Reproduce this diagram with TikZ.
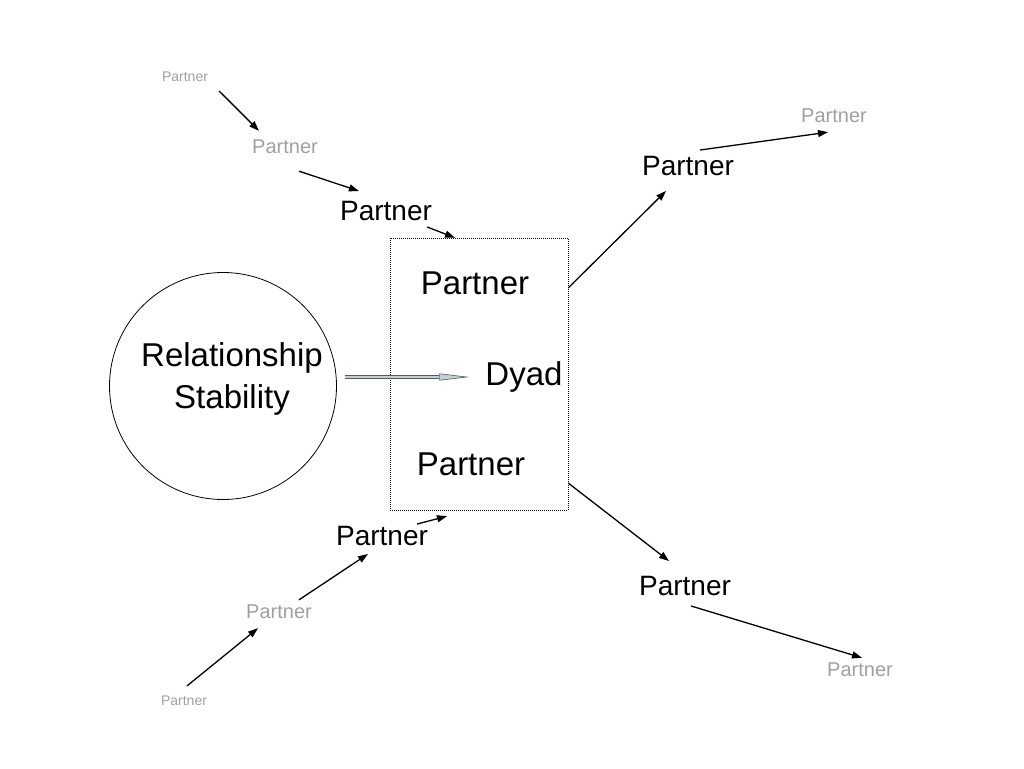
\documentclass[tikz,border=0pt]{standalone}
\usepackage{fontspec}
\setmainfont{Liberation Sans}
\usetikzlibrary{arrows.meta}
\usetikzlibrary{positioning}
\definecolor{shaftfill}{RGB}{190,210,215}
\definecolor{faintgray}{RGB}{160,160,160}

\begin{document}
\begin{tikzpicture}
	[x=1pt,y=-1pt,inner sep=2pt,
	 big/.style={font=\fontsize{33}{40}\selectfont},
	 mid/.style={font=\fontsize{28}{34}\selectfont},
	 faint/.style={font=\fontsize{20}{24}\selectfont,text=faintgray},
	 tiny/.style={font=\fontsize{14}{17}\selectfont,text=faintgray},
	 arr/.style={line width=1.3pt,-{Triangle[length=10pt,width=7pt]}}]
	\useasboundingbox (0,0) rectangle (1024,768);
	% the dyad box and the circle
	\node[draw,dash pattern=on 1pt off 1pt,minimum width=178pt,minimum height=272pt] (dy) at (479,374) {};
	\node[draw,circle,minimum size=227pt,line width=0.8pt] (rs) at (223,386) {};
	\node[big,align=center] (rstext) at (232,379) {Relationship\\[2pt]Stability};
	\node[big] (p1) at (475,283) {Partner};
	\node[big] (dd) at (524,377) {Dyad};
	\node[big] (p2) at (471,464) {Partner};
	% partners outside
	\node[tiny] (s1) at (185,77) {Partner};
	\node[faint] (g1) at (285,147) {Partner};
	\node[mid] (m1) at (386,211) {Partner};
	\node[mid] (m2) at (688,166) {Partner};
	\node[faint] (g2) at (834,116) {Partner};
	\node[mid] (m3) at (685,586) {Partner};
	\node[faint] (g3) at (860,670) {Partner};
	\node[tiny] (s2) at (184,701) {Partner};
	\node[faint] (g4) at (279,612) {Partner};
	\node[mid] (m4) at (382,536) {Partner};

	\draw[arr] ([xshift=9pt,yshift=-7pt]s1.south east) -- ([xshift=9pt,yshift=7pt]g1.north west);
	\draw[arr] ([xshift=14pt,yshift=-15pt]g1.south) -- ([xshift=21pt,yshift=8pt]m1.north west);
	\draw[arr] ([xshift=-7pt,yshift=-4pt]m1.south east) -- ([xshift=-24pt]dy.north);
	\draw[arr] ([yshift=86pt]dy.east) -- ([xshift=-22pt,yshift=-13pt]m2.south);
	\draw[arr] ([xshift=12pt,yshift=4pt]m2.north) -- ([xshift=-6pt,yshift=-7pt]g2.south);
	\draw[arr] ([yshift=-109pt]dy.east) -- ([xshift=-16pt,yshift=13pt]m3.north);
	\draw[arr] ([xshift=6pt,yshift=-8pt]m3.south) -- ([xshift=2pt,yshift=3pt]g3.north);
	\draw[arr] ([xshift=3pt,yshift=8pt]s2.north) -- ([xshift=14pt,yshift=-7pt]g4.south west);
	\draw[arr] ([xshift=20pt,yshift=3pt]g4.north) -- ([xshift=-14pt,yshift=-6pt]m4.south);
	\draw[arr] ([xshift=-13pt]m4.north east) -- ([xshift=-32pt,yshift=-6pt]dy.south);
	% stability acts on the dyad
	\draw[draw=black!65,line width=0.8pt,double=shaftfill,double distance=2.5pt,
	      -{Triangle[length=30pt,width=7pt,fill=shaftfill,line width=0.6pt]}]
	      ([xshift=8pt,yshift=9pt]rs.east) -- ([xshift=-14pt]dd.west);
\end{tikzpicture}
\end{document}
